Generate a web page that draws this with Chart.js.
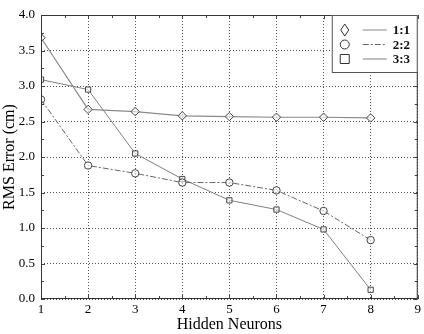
<!DOCTYPE html>
<html>
<head>
<meta charset="utf-8">
<script src="https://cdn.jsdelivr.net/npm/chart.js@4/dist/chart.umd.min.js"></script>
<style>
  html, body { margin: 0; padding: 0; background: #fff; }
  #wrap { width: 424px; height: 334px; }
</style>
</head>
<body>
<div id="wrap"><canvas id="rmsChart" width="424" height="334"></canvas></div>
<script>
// Dados
const neurons = [1, 2, 3, 4, 5, 6, 7, 8];
const errors11 = [3.68, 2.67, 2.64, 2.58, 2.57, 2.56, 2.56, 2.55];
const errors22 = [2.81, 1.88, 1.77, 1.64, 1.64, 1.53, 1.24, 0.83];
const errors33 = [3.09, 2.95, 2.05, 1.69, 1.39, 1.26, 0.98, 0.13];
const seriesLabels = ['1:1', '2:2', '3:3'];
const yTicks = [0, 0.5, 1, 1.5, 2, 2.5, 3, 3.5, 4];

const SERIF = '"Liberation Serif", "DejaVu Serif", serif';

const toPoints = vals => neurons.map((n, i) => ({ x: n, y: vals[i] }));

// Estilos de cada série
const styles = [
    { point: 'rectRot', dash: [], color: '#8a8a8a', width: 1.2 },
    { point: 'circle', dash: [6, 2, 2, 2], color: '#666', width: 1 },
    { point: 'rect', dash: [], color: '#808080', width: 1 }
];

// Ticks menores + moldura + legenda desenhada à mão
const framePlugin = {
    id: 'frame',
    afterDraw(chart) {
        const { ctx, chartArea: a, scales } = chart;
        ctx.save();
        ctx.strokeStyle = '#444';
        ctx.lineWidth = 1;
        // minor ticks do eixo x
        for (let v = 1; v <= 9; v += 0.5) {
            const px = Math.round(scales.x.getPixelForValue(v)) + 0.5;
            const len = Number.isInteger(v) ? 4 : 3;
            ctx.beginPath();
            ctx.moveTo(px, a.bottom); ctx.lineTo(px, a.bottom - len);
            ctx.moveTo(px, a.top); ctx.lineTo(px, a.top + len);
            ctx.stroke();
        }
        // minor ticks do eixo y
        for (let v = 0; v <= 4; v += 0.25) {
            const py = Math.round(scales.y.getPixelForValue(v)) + 0.5;
            const len = (v * 2) % 1 === 0 ? 4 : 3;
            ctx.beginPath();
            ctx.moveTo(a.left, py); ctx.lineTo(a.left + len, py);
            ctx.moveTo(a.right, py); ctx.lineTo(a.right - len, py);
            ctx.stroke();
        }
        // moldura
        ctx.strokeStyle = '#333';
        ctx.strokeRect(a.left + 0.5, a.top + 0.5, a.right - a.left - 1, a.bottom - a.top - 1);

        // caixa da legenda
        const bx = a.right - 86, by = a.top, bw = 86, bh = 57;
        ctx.fillStyle = '#fff';
        ctx.fillRect(bx, by, bw, bh);
        ctx.strokeStyle = '#555';
        ctx.strokeRect(bx + 0.5, by + 0.5, bw - 1, bh);
        ctx.font = 'bold 13px ' + SERIF;
        ctx.textBaseline = 'middle';
        seriesLabels.forEach((lab, i) => {
            const y = by + 15 + i * 14.5;
            const st = styles[i];
            ctx.strokeStyle = '#333';
            ctx.fillStyle = '#fff';
            ctx.lineWidth = 1;
            ctx.beginPath();
            if (st.point === 'rectRot') {
                ctx.moveTo(bx + 13, y - 6); ctx.lineTo(bx + 17, y);
                ctx.lineTo(bx + 13, y + 6); ctx.lineTo(bx + 9, y); ctx.closePath();
            } else if (st.point === 'circle') {
                ctx.arc(bx + 13, y, 4.5, 0, Math.PI * 2);
            } else {
                ctx.rect(bx + 8.5, y - 4.5, 9, 9);
            }
            ctx.stroke();
            ctx.beginPath();
            ctx.strokeStyle = st.color;
            ctx.setLineDash(st.dash);
            ctx.moveTo(bx + 31, y); ctx.lineTo(bx + 55, y);
            ctx.stroke();
            ctx.setLineDash([]);
            ctx.fillStyle = '#111';
            ctx.fillText(lab, bx + 61, y + 1);
        });
        ctx.restore();
    }
};

const ctx = document.getElementById('rmsChart').getContext('2d');

new Chart(ctx, {
    type: 'line',
    data: {
        datasets: [errors11, errors22, errors33].map((vals, i) => ({
            label: seriesLabels[i],
            data: toPoints(vals),
            borderColor: styles[i].color,
            borderWidth: styles[i].width,
            borderDash: styles[i].dash,
            pointStyle: styles[i].point,
            pointRadius: styles[i].point === 'rectRot' ? 4.2 : 3.7,
            pointBackgroundColor: 'rgba(255,255,255,0.6)',
            pointBorderColor: '#444',
            pointBorderWidth: 1,
            tension: 0,
            fill: false
        }))
    },
    options: {
        responsive: false,
        animation: false,
        layout: { padding: { top: 15, right: 4, left: 0, bottom: 0 } },
        plugins: {
            legend: { display: false },
            tooltip: { enabled: false }
        },
        scales: {
            x: {
                type: 'linear',
                min: 1,
                max: 9,
                ticks: {
                    stepSize: 1,
                    color: '#000',
                    font: { family: SERIF, size: 13 },
                    padding: 3
                },
                grid: {
                    color: '#555',
                    drawTicks: false
                },
                border: { display: false, dash: [1, 2] },
                title: {
                    display: true,
                    text: 'Hidden Neurons',
                    color: '#000',
                    font: { family: SERIF, size: 16 },
                    padding: { top: 0, bottom: 0 }
                },
                afterFit(scale) { scale.height = 35; }
            },
            y: {
                min: 0,
                max: 4,
                afterBuildTicks(scale) { scale.ticks = yTicks.map(v => ({ value: v })); },
                ticks: {
                    color: '#000',
                    font: { family: SERIF, size: 13 },
                    padding: 6,
                    callback: v => Number(v).toFixed(1)
                },
                grid: {
                    color: '#555',
                    drawTicks: false
                },
                border: { display: false, dash: [1, 2] },
                title: {
                    display: true,
                    text: 'RMS Error (cm)',
                    color: '#000',
                    font: { family: SERIF, size: 16 },
                    padding: { top: 0, bottom: 0 }
                },
                afterFit(scale) { scale.width = 41; }
            }
        }
    },
    plugins: [framePlugin]
});
</script>
</body>
</html>
